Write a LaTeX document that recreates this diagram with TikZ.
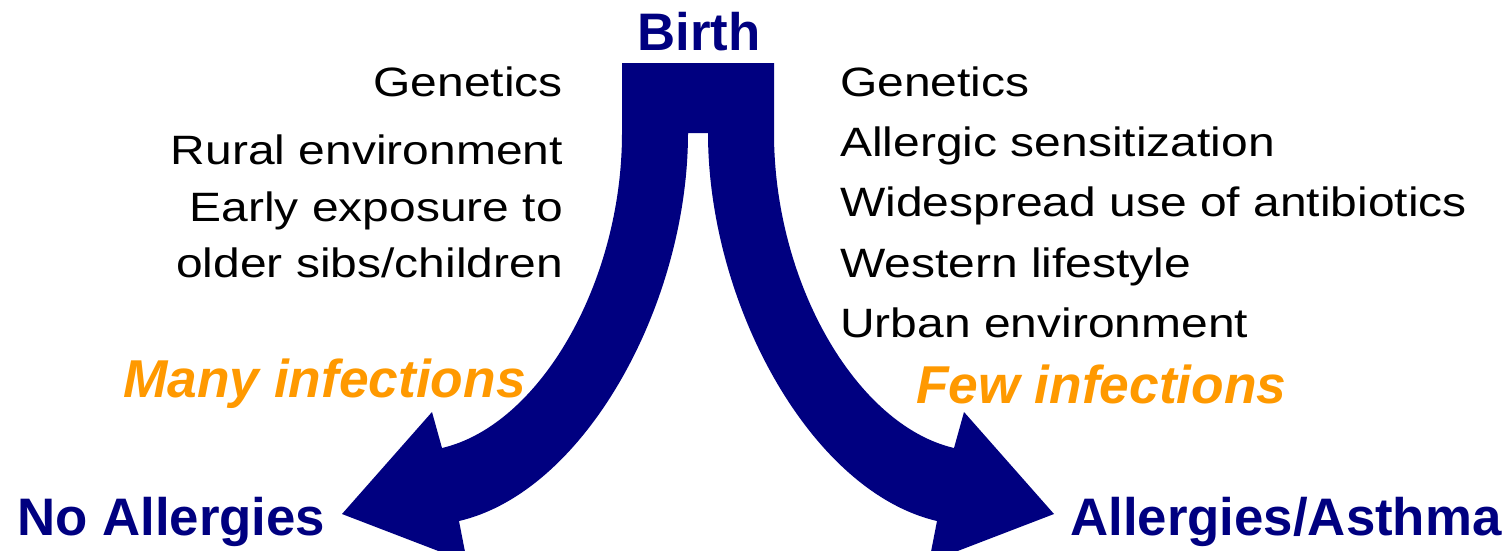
\documentclass[tikz,border=0pt]{standalone}
\usepackage{fontspec}
\setmainfont{Liberation Sans}
\newfontfamily\widefont[FakeStretch=1.17]{Liberation Sans}
\definecolor{navyblue}{RGB}{0,0,128}
\definecolor{infectorange}{RGB}{255,153,0}
\tikzset{
  factor/.style={inner sep=0pt, font=\widefont\fontsize{41}{48}\selectfont, text=black},
  outcome/.style={inner sep=0pt, font=\bfseries\fontsize{52.8}{60}\selectfont, text=navyblue},
  infect/.style={inner sep=0pt, font=\bfseries\itshape\fontsize{53.3}{60}\selectfont, text=infectorange},
  forkarrow/.style={fill=navyblue, draw=none}
}
\begin{document}
\begin{tikzpicture}[x=1pt,y=-1pt]
\useasboundingbox (0,0) rectangle (1510,550);
\clip (0,0) rectangle (1510,550);

% forked arrow: one trunk splitting into two curved arrows
\path[forkarrow]
  (622,63) -- (774,63) -- (774,133)
  .. controls (774,283) and (856.6,425.3) .. (954,448)
  -- (964,412) -- (1054,514) -- (929,562) -- (937,521)
  .. controls (810.4,491.5) and (708,303) .. (708,133)
  -- (688,133)
  .. controls (688,303) and (585.6,491.5) .. (459,521)
  -- (467,562) -- (342,514) -- (432,412) -- (442,448)
  .. controls (539.4,425.3) and (622,283) .. (622,133)
  -- cycle;

% start and outcomes
\node[outcome, anchor=base] (birth) at (699,50) {Birth};
\node[outcome, anchor=base west] (noallergy) at (17,535) {No Allergies};
\node[outcome, anchor=base west] (asthma) at (1070,535) {Allergies/Asthma};

% infection labels
\node[infect, anchor=base east] (many) at (526,397) {Many infections};
\node[infect, anchor=base west] (few) at (916,403) {Few infections};

% protective factors
\node[factor, anchor=base east] (lgen) at (563,96) {Genetics};
\node[factor, anchor=base east] (lrural) at (563,164) {Rural environment};
\node[factor, anchor=base east] (learly) at (563,221) {Early exposure to};
\node[factor, anchor=base east] (lsibs) at (563,277) {older sibs/children};

% risk factors
\node[factor, anchor=base west] (rgen) at (840,96) {Genetics};
\node[factor, anchor=base west] (rsens) at (840,156) {Allergic sensitization};
\node[factor, anchor=base west] (rabx) at (840,216) {Widespread use of antibiotics};
\node[factor, anchor=base west] (rwest) at (840,277) {Western lifestyle};
\node[factor, anchor=base west] (rurban) at (840,337) {Urban environment};
\end{tikzpicture}
\end{document}
